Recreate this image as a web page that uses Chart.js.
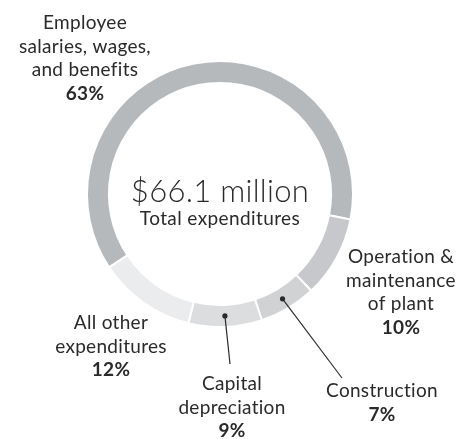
<!DOCTYPE html>
<html>
<head>
<meta charset="utf-8">
<script src="https://cdn.jsdelivr.net/npm/chart.js@4/dist/chart.umd.min.js"></script>
<style>
  html, body { margin: 0; padding: 0; background: #ffffff; }
  #wrap { width: 474px; height: 439px; position: relative; }
</style>
</head>
<body>
<div id="wrap"><canvas id="chart"></canvas></div>
<script>
// data
const categories = [
    ['Employee', 'salaries, wages,', 'and benefits'],
    ['Operation &', 'maintenance', 'of plant'],
    ['Construction'],
    ['Capital', 'depreciation'],
    ['All other', 'expenditures']
];
const shares = [63, 10, 7, 9, 12];
const totalLabel = '$66.1 million';
const totalCaption = 'Total expenditures';

const sliceColors = ['#b6b9bc', '#c6c8cb', '#d0d2d4', '#dcdddf', '#ebeced'];
const textColor = '#2a2a2a';
const fontFamily = 'Lato, "Open Sans", sans-serif';

// label anchors, as offsets from the ring centre (first baseline, centred)
const labelSpots = [
    { dx: -135, dy: -165 },
    { dx: 181, dy: 69 },
    { dx: 162, dy: 203 },
    { dx: 12, dy: 196 },
    { dx: -109, dy: 135 }
];
// leader line ends for the small slices (null = no leader)
const leaderEnds = [null, null, { dx: 122, dy: 184 }, { dx: 10, dy: 170 }, null];
const lineStep = 23.5;

const labelPlugin = {
    id: 'ringLabels',
    afterDraw(chart) {
        const c = chart.ctx;
        const arcs = chart.getDatasetMeta(0).data;
        const cx = arcs[0].x, cy = arcs[0].y;

        c.save();
        c.fillStyle = textColor;
        c.textAlign = 'center';
        c.textBaseline = 'alphabetic';

        // centre text
        c.letterSpacing = '0.3px';
        c.font = '300 31px ' + fontFamily;
        c.fillText(totalLabel, cx, cy + 8);
        c.letterSpacing = '0.4px';
        c.font = '400 19px ' + fontFamily;
        c.fillText(totalCaption, cx, cy + 31);

        // leaders
        c.strokeStyle = textColor;
        c.lineWidth = 1.2;
        arcs.forEach((arc, i) => {
            const end = leaderEnds[i];
            if (!end) return;
            const p = arc.tooltipPosition();
            c.beginPath();
            c.moveTo(p.x, p.y);
            c.lineTo(cx + end.dx, cy + end.dy);
            c.stroke();
            c.beginPath();
            c.arc(p.x, p.y, 2.6, 0, Math.PI * 2);
            c.fill();
        });

        // slice labels
        categories.forEach((lines, i) => {
            const x = cx + labelSpots[i].dx;
            let y = cy + labelSpots[i].dy;
            c.letterSpacing = '0.3px';
            c.font = '400 19px ' + fontFamily;
            lines.forEach(t => {
                c.fillText(t, x, y);
                y += lineStep;
            });
            c.font = '700 19px ' + fontFamily;
            c.fillText(shares[i] + '%', x, y);
        });
        c.restore();
    }
};

new Chart(document.getElementById('chart'), {
    type: 'doughnut',
    data: {
        labels: categories.map(l => l.join(' ')),
        datasets: [{
            data: shares,
            backgroundColor: sliceColors,
            borderColor: '#ffffff',
            borderWidth: 2
        }]
    },
    options: {
        responsive: true,
        maintainAspectRatio: false,
        animation: false,
        rotation: 236.5,
        cutout: '83.5%',
        layout: { padding: { left: 86, right: 120, top: 60, bottom: 111 } },
        plugins: {
            legend: { display: false },
            tooltip: { enabled: false }
        }
    },
    plugins: [labelPlugin]
});
</script>
</body>
</html>
